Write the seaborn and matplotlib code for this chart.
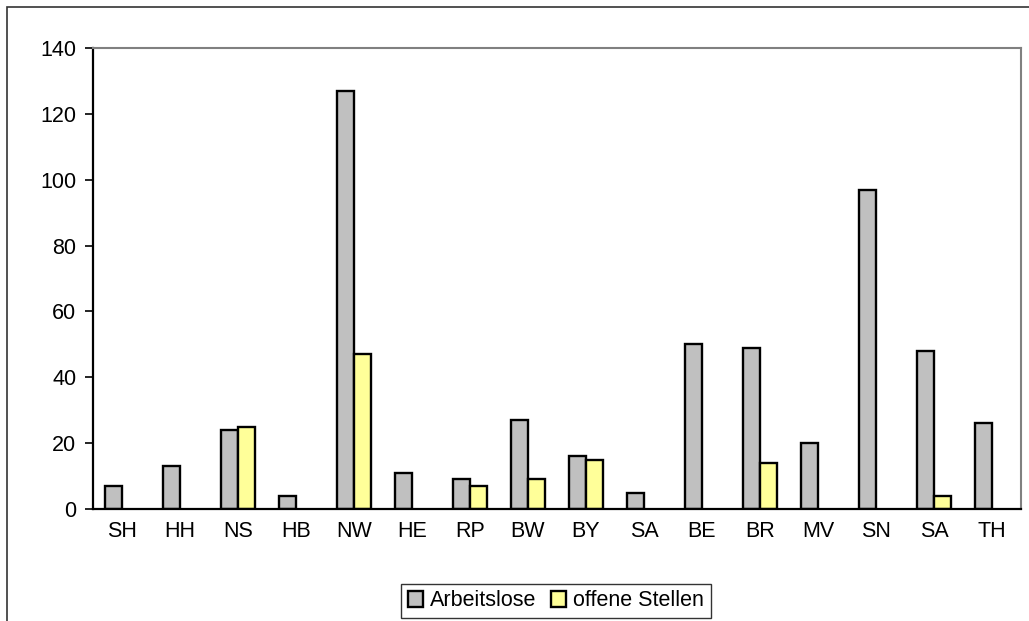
import numpy as np
import pandas as pd
import matplotlib
matplotlib.use("Agg")
import matplotlib.pyplot as plt
import matplotlib.patches as mpatches
import seaborn as sns

# Bundeslaender and counts
laender = ["SH", "HH", "NS", "HB", "NW", "HE", "RP", "BW",
           "BY", "SA", "BE", "BR", "MV", "SN", "SA", "TH"]
arbeitslose = [7, 13, 24, 4, 127, 11, 9, 27, 16, 5, 50, 49, 20, 97, 48, 26]
offene_stellen = [0, 0, 25, 0, 47, 0, 7, 9, 15, 0, 0, 14, 0, 0, 4, 0]
series_names = ["Arbeitslose", "offene Stellen"]
colors = ["#C0C0C0", "#FFFF99"]

sns.set_style("white")
plt.rcParams["font.family"] = ["Liberation Sans", "DejaVu Sans"]
plt.rcParams["text.color"] = "black"
plt.rcParams["xtick.color"] = "black"
plt.rcParams["ytick.color"] = "black"

# positions are unique per column, labels repeat (SA twice)
pos_ids = [f"{i:02d}" for i in range(len(laender))]
df = pd.DataFrame({
    "pos": pos_ids * 2,
    "wert": arbeitslose + offene_stellen,
    "serie": [series_names[0]] * len(laender) + [series_names[1]] * len(laender),
})
df.loc[df["wert"] == 0, "wert"] = np.nan

fig = plt.figure(figsize=(10.29, 6.21), dpi=100)
ax = fig.add_axes([0.0904, 0.1804, 0.9018, 0.7423])

sns.barplot(data=df, x="pos", y="wert", hue="serie", order=pos_ids,
            hue_order=series_names, palette=colors, width=0.6,
            edgecolor="black", linewidth=1.7, saturation=1, ax=ax, legend=False)

ax.set_ylim(0, 140)
ax.set_yticks(range(0, 141, 20))
ax.set_xlim(-0.5, len(laender) - 0.5)
ax.set_xticks(range(len(laender)))
ax.set_xticklabels(laender)
ax.set_xticks(np.arange(-0.5, len(laender)), minor=True)
ax.tick_params(axis="x", which="major", length=0, pad=9, labelsize=15.5)
ax.tick_params(axis="x", which="minor", length=6, width=1.2, direction="out")
ax.tick_params(axis="y", length=6, width=1.2, direction="out", left=True,
               labelsize=15.5, pad=6)
ax.set_xlabel("")
ax.set_ylabel("")

for side in ["left", "bottom"]:
    ax.spines[side].set_color("black")
    ax.spines[side].set_linewidth(1.6)
for side in ["top", "right"]:
    ax.spines[side].set_color("#808080")
    ax.spines[side].set_linewidth(1.5)

# outer chart frame
fig.patches.append(mpatches.Rectangle((0.0068, -0.05), 1.2, 1.05 - 7 / 621,
                                      transform=fig.transFigure, fill=False,
                                      edgecolor="#333333", linewidth=1.2))

handles = [mpatches.Patch(facecolor=c, edgecolor="black", linewidth=1.7, label=n)
           for c, n in zip(colors, series_names)]
leg = fig.legend(handles=handles, loc="center", bbox_to_anchor=(556 / 1029, 1 - 601 / 621),
                 ncol=2, frameon=True, fancybox=False, fontsize=15.5,
                 handlelength=0.7, handleheight=0.7, handletextpad=0.33,
                 columnspacing=0.7, borderpad=0.3, borderaxespad=0)
leg.get_frame().set_edgecolor("black")
leg.get_frame().set_linewidth(1.0)

fig.savefig("out.png", dpi=100)
